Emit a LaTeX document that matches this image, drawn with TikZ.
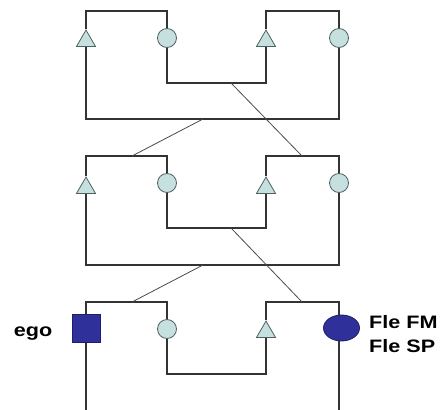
\documentclass[tikz,border=0pt]{standalone}
\usepackage{fontspec}
\setmainfont{Liberation Sans}
\usetikzlibrary{shapes.geometric}
\definecolor{linec}{HTML}{333333}
\definecolor{diagc}{HTML}{4a4a4a}
\definecolor{symfill}{HTML}{C6DFDF}
\definecolor{symdraw}{HTML}{4F6262}
\definecolor{bluefill}{HTML}{30309A}
\definecolor{bluedraw}{HTML}{1E1E6A}
\begin{document}
\begin{tikzpicture}[x=1pt,y=-1pt,
  wire/.style={draw=linec,line width=1.3pt,line join=miter},
  diag/.style={draw=diagc,line width=0.8pt},
  male/.style={regular polygon,regular polygon sides=3,minimum size=22pt,inner sep=0pt,fill=symfill,draw=symdraw,line width=0.8pt},
  female/.style={circle,minimum size=19pt,inner sep=0pt,fill=symfill,draw=symdraw,line width=0.8pt},
  egobox/.style={rectangle,minimum width=28pt,minimum height=28pt,inner sep=0pt,fill=bluefill,draw=bluedraw,line width=0.8pt},
  egoell/.style={ellipse,minimum width=36pt,minimum height=26pt,inner sep=0pt,fill=bluefill,draw=bluedraw,line width=0.8pt},
  lbl/.style={font=\fontsize{18}{24}\selectfont\bfseries,xscale=1.2,inner sep=0pt}]
\useasboundingbox (0,0) rectangle (441,409);

% ---------- level 1 ----------
\node[male]   (t1a) at (86,41) {};
\node[female] (c1a) at (167,38) {};
\node[male]   (t1b) at (266,41) {};
\node[female] (c1b) at (339,38) {};
\coordinate (l1tl) at (86,11);  \coordinate (l1tr) at (167,11);
\coordinate (r1tl) at (266,11); \coordinate (r1tr) at (339,11);
\coordinate (i1l) at (167,83);  \coordinate (i1r) at (266,83);
\coordinate (o1l) at (86,119);  \coordinate (o1r) at (339,119);
\draw[wire] (t1a.north) -- (l1tl) -- (l1tr) -- (c1a.north);
\draw[wire] (t1b.north) -- (r1tl) -- (r1tr) -- (c1b.north);
\draw[wire] (c1a.south) -- (i1l) -- (i1r) -- (t1b.south);
\draw[wire] (t1a.south) -- (o1l) -- (o1r) -- (c1b.south);
\coordinate (d1o) at (203,119);
\coordinate (d1i) at (231,83);

% ---------- level 2 ----------
\node[male]   (t2a) at (86,188) {};
\node[female] (c2a) at (167,183) {};
\node[male]   (t2b) at (266,188) {};
\node[female] (c2b) at (339,183) {};
\coordinate (l2tl) at (86,156);  \coordinate (l2tr) at (167,156);
\coordinate (r2tl) at (266,156); \coordinate (r2tr) at (339,156);
\coordinate (i2l) at (167,228);  \coordinate (i2r) at (266,228);
\coordinate (o2l) at (86,265);   \coordinate (o2r) at (339,265);
\draw[wire] (t2a.north) -- (l2tl) -- (l2tr) -- (c2a.north);
\draw[wire] (t2b.north) -- (r2tl) -- (r2tr) -- (c2b.north);
\draw[wire] (c2a.south) -- (i2l) -- (i2r) -- (t2b.south);
\draw[wire] (t2a.south) -- (o2l) -- (o2r) -- (c2b.south);
\coordinate (u2l) at (132,156);
\coordinate (u2r) at (302,156);
\coordinate (d2o) at (203,265);
\coordinate (d2i) at (231,228);
\draw[diag] (d1o) -- (u2l);
\draw[diag] (d1i) -- (u2r);

% ---------- level 3 ----------
\node[egobox] (ego) at (86,328.5) {};
\node[female] (c3a) at (167,329) {};
\node[male]   (t3b) at (266,332) {};
\node[egoell] (sib) at (341.5,328) {};
\coordinate (l3tl) at (86,302);  \coordinate (l3tr) at (167,302);
\coordinate (r3tl) at (266,302); \coordinate (r3tr) at (339,302);
\coordinate (i3l) at (167,374);  \coordinate (i3r) at (266,374);
\coordinate (b3l) at (86,412);   \coordinate (b3r) at (339,412);
\draw[wire] (ego.north) -- (l3tl) -- (l3tr) -- (c3a.north);
\draw[wire] (t3b.north) -- (r3tl) -- (r3tr) -- (r3tr |- sib.north);
\draw[wire] (c3a.south) -- (i3l) -- (i3r) -- (t3b.south);
\draw[wire] (ego.south) -- (b3l);
\draw[wire] (sib.south -| b3r) -- (b3r);
\coordinate (u3l) at (132,302);
\coordinate (u3r) at (302,302);
\draw[diag] (d2o) -- (u3l);
\draw[diag] (d2i) -- (u3r);

% ---------- labels ----------
\node[lbl,anchor=base east] (egolbl) at (52.5,336) {ego};
\node[lbl,anchor=base west] (fm) at (369,328) {Fle FM};
\node[lbl,anchor=base west] (sp) at (369,352) {Fle SP};
\end{tikzpicture}
\end{document}
